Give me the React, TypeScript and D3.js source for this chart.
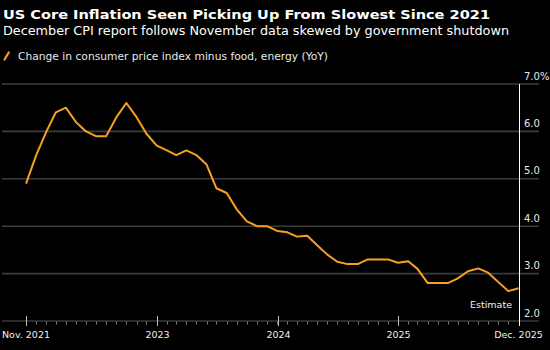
import React from "react";
import * as d3 from "d3";

const TITLE = "US Core Inflation Seen Picking Up From Slowest Since 2021";
const SUBTITLE = "December CPI report follows November data skewed by government shutdown";
const LEGEND = "Change in consumer price index minus food, energy (YoY)";

const months: string[] = [
  "2021-11", "2021-12",
  "2022-01", "2022-02", "2022-03", "2022-04", "2022-05", "2022-06", "2022-07", "2022-08", "2022-09", "2022-10", "2022-11", "2022-12",
  "2023-01", "2023-02", "2023-03", "2023-04", "2023-05", "2023-06", "2023-07", "2023-08", "2023-09", "2023-10", "2023-11", "2023-12",
  "2024-01", "2024-02", "2024-03", "2024-04", "2024-05", "2024-06", "2024-07", "2024-08", "2024-09", "2024-10", "2024-11", "2024-12",
  "2025-01", "2025-02", "2025-03", "2025-04", "2025-05", "2025-06", "2025-07", "2025-08", "2025-09", "2025-10", "2025-11", "2025-12",
];

const coreCpi: (number | null)[] = [
  4.9, 5.5,
  6.0, 6.4, 6.5, 6.2, 6.0, 5.9, 5.9, 6.3, 6.6, 6.3, 5.95, 5.7,
  5.6, 5.5, 5.6, 5.5, 5.3, 4.8, 4.7, 4.35, 4.1, 4.0, 4.0, 3.9,
  3.87, 3.78, 3.8, 3.6, 3.4, 3.25, 3.2, 3.2, 3.3, 3.3, 3.3, 3.23,
  3.26, 3.1, 2.8, 2.8, 2.8, 2.9, 3.05, 3.11, 3.02, null, 2.63, 2.69,
];

const yTicks: number[] = [2, 3, 4, 5, 6, 7];
const yearTicks: string[] = ["2023", "2024", "2025"];
const endLabels: string[] = ["Nov. 2021", "Dec. 2025"];
const ESTIMATE = "Estimate";

const FONT = "'DejaVu Sans', Verdana, sans-serif";
const ORANGE = "#f9a11f";

function monthEnd(s: string): Date {
  const [y, m] = s.split("-").map(Number);
  return new Date(y, m, 0);
}

export default function App() {
  const W = 550;
  const H = 350;
  const dates = months.map(monthEnd);
  const x = d3
    .scaleTime()
    .domain([dates[0], dates[dates.length - 1]])
    .range([26, 518.5]);
  const y = d3.scaleLinear().domain([2, 7]).range([321, 84]);

  const pts = months
    .map((m, i) => ({ d: dates[i], v: coreCpi[i] }))
    .filter((p) => p.v !== null) as { d: Date; v: number }[];

  const line = d3
    .line<{ d: Date; v: number }>()
    .x((p) => x(p.d))
    .y((p) => y(p.v))
    .curve(d3.curveLinear);

  const gridLeft = 2;
  const gridRight = 539;
  const xEnd = x(dates[dates.length - 1]);
  const xStart = x(dates[0]);

  return (
    <svg
      width={W}
      height={H}
      style={{ position: "fixed", left: 0, top: 0, background: "#000" }}
      fontFamily={FONT}
    >
      <rect x={0} y={0} width={W} height={H} fill="#000" />

      {/* Title & subtitle */}
      <text x={3} y={19} fill="#fff" fontWeight="bold" fontSize={12.5} textLength={487} lengthAdjust="spacingAndGlyphs">
        {TITLE}
      </text>
      <text x={3} y={35} fill="#fff" fontSize={12.5} textLength={506} lengthAdjust="spacingAndGlyphs">
        {SUBTITLE}
      </text>

      {/* Legend */}
      <line x1={4.5} y1={59.5} x2={8.8} y2={52.5} stroke={ORANGE} strokeWidth={2.2} strokeLinecap="round" />
      <text x={18} y={60} fill="#e8e8e8" fontSize={10.5} textLength={310} lengthAdjust="spacingAndGlyphs">
        {LEGEND}
      </text>

      {/* Gridlines */}
      {yTicks.map((t) => (
        <line
          key={"g" + t}
          x1={gridLeft}
          x2={gridRight}
          y1={y(t)}
          y2={y(t)}
          stroke={t === 2 ? "#555" : "#3c3c3c"}
          strokeWidth={t === 2 ? 1 : 1.6}
        />
      ))}

      {/* Y labels */}
      {yTicks.map((t) => (
        <text key={"yl" + t} x={524} y={y(t) - 4.5} fill="#e6e6e6" fontSize={10}>
          {t.toFixed(1) + (t === 7 ? "%" : "")}
        </text>
      ))}

      {/* Month minor ticks */}
      {dates.map((d, i) => (
        <line
          key={"mt" + i}
          x1={Math.round(x(d)) + 0.5}
          x2={Math.round(x(d)) + 0.5}
          y1={321.5}
          y2={324.5}
          stroke="#7a7a7a"
          strokeWidth={1}
        />
      ))}

      {/* Year major ticks */}
      {yearTicks.map((yr) => {
        const xx = Math.round(x(new Date(+yr, 0, 1))) + 0.5;
        return (
          <g key={"yt" + yr}>
            <line x1={xx} x2={xx} y1={316} y2={326} stroke="#bdbdbd" strokeWidth={1} />
            <text x={xx} y={338} fill="#f0f0f0" fontSize={9.5} textAnchor="middle">
              {yr}
            </text>
          </g>
        );
      })}
      <line x1={Math.round(xStart) + 0.5} x2={Math.round(xStart) + 0.5} y1={316} y2={326} stroke="#bdbdbd" strokeWidth={1} />
      <text x={xStart} y={338} fill="#f0f0f0" fontSize={9.5} textAnchor="middle">
        {endLabels[0]}
      </text>
      <text x={xEnd} y={338} fill="#f0f0f0" fontSize={9.5} textAnchor="middle">
        {endLabels[1]}
      </text>

      {/* Data line */}
      <path d={line(pts) || ""} fill="none" stroke={ORANGE} strokeWidth={2} strokeLinejoin="round" />

      {/* Right white vertical line */}
      <line x1={Math.round(xEnd) + 0.5} x2={Math.round(xEnd) + 0.5} y1={y(7)} y2={326} stroke="#fff" strokeWidth={1} />

      {/* Estimate label */}
      <text x={512} y={307.5} fill="#f0f0f0" fontSize={9.5} textAnchor="end">
        {ESTIMATE}
      </text>
    </svg>
  );
}
